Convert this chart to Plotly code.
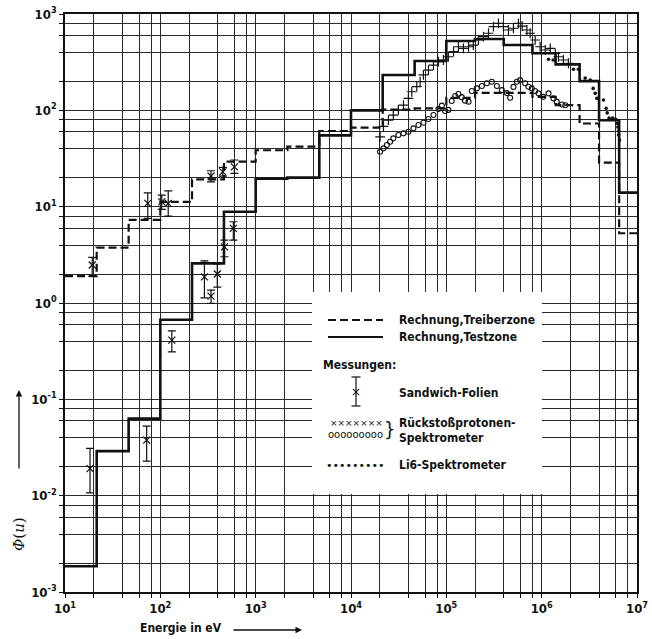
import plotly.graph_objects as go

# ---------------- data ----------------
# group boundaries (eV) of the step histograms
bin_edges = [10, 21.5, 46.5, 100, 215, 465, 1000, 2150, 4650, 1e4, 2.15e4, 4.65e4,
             1e5, 2e5, 4e5, 8e5, 1.4e6, 2.5e6, 4e6, 6.5e6, 1.05e7]
# Rechnung, Treiberzone (dashed)
treiber = [1.9, 3.75, 7.3, 11.2, 19.2, 29.3, 38.5, 42, 61, 66, 102, 105,
           135, 152, 152, 138, 113, 73, 28.6, 5.3]
# Rechnung, Testzone (solid)
testzone = [0.00185, 0.029, 0.063, 0.67, 2.58, 8.85, 19.5, 20, 55, 100, 233, 325,
            525, 550, 476, 391, 300, 201, 79, 14]

# Sandwich-Folien measurements
sw_E = [19.3, 73.8, 103.5, 121, 340, 452, 598, 290, 396, 340, 470, 583, 18.3, 71.9, 132]
sw_val = [2.48, 10.8, 11.2, 10.8, 20.8, 23.0, 25.9, 1.87, 2.0, 1.18, 3.83, 5.95, 0.0191, 0.0377, 0.412]
sw_hi = [2.98, 13.9, 13.2, 14.6, 23.6, 25.6, 30.5, 2.74, 2.54, 1.36, 4.50, 6.97, 0.0309, 0.0527, 0.514]
sw_lo = [1.90, 7.56, 9.37, 7.98, 18.1, 20.8, 22.2, 1.13, 1.46, 0.99, 3.02, 4.50, 0.0107, 0.0228, 0.311]

# Rückstoßprotonen-Spektrometer (crosses)
rp1_E = [2.02e4, 2.19e4, 2.47e4, 2.78e4, 3.14e4, 3.55e4, 4.0e4, 4.34e4, 4.9e4, 5.31e4,
         5.75e4, 6.49e4, 7.33e4, 8.27e4, 9.33e4, 1.05e5, 1.19e5, 1.34e5, 1.51e5, 1.71e5,
         1.92e5, 2.17e5, 2.45e5, 2.77e5, 3.12e5, 3.52e5, 3.97e5, 4.48e5, 5.06e5, 5.71e5,
         6.24e5, 7.0e5, 7.57e5, 8.54e5, 9.64e5, 1.09e6, 1.23e6, 1.39e6, 1.5e6, 1.69e6, 1.91e6]
rp1_val = [53, 68, 79, 89, 101, 113, 133, 156, 176, 198,
           233, 262, 295, 320, 333, 360, 406, 457, 440, 457,
           476, 537, 581, 631, 738, 800, 738, 682, 711, 800,
           750, 682, 631, 537, 457, 423, 440, 391, 360, 333, 308]

# Rückstoßprotonen-Spektrometer (circles)
rp2_E = [2.02e4, 2.19e4, 2.38e4, 2.57e4, 2.78e4, 3.14e4, 3.55e4, 4.0e4, 4.52e4, 5.1e4,
         5.75e4, 6.49e4, 7.33e4, 8.27e4, 8.97e4, 9.71e4, 1.05e5, 1.14e5, 1.24e5, 1.34e5,
         1.45e5, 1.57e5, 1.71e5, 1.85e5, 2.09e5, 2.36e5, 2.66e5, 3.0e5, 3.39e5, 3.82e5,
         4.31e5, 4.67e5, 5.06e5, 5.49e5, 5.95e5, 6.71e5, 7.27e5, 7.89e5, 8.54e5, 9.26e5,
         1.04e6, 1.18e6, 1.33e6, 1.44e6, 1.63e6, 1.77e6]
rp2_val = [37.2, 40.3, 43.6, 47.2, 51.2, 55.4, 57.7, 60, 65, 70.4,
           74.3, 81.2, 89.4, 103, 112, 98.4, 101, 125, 141, 148,
           137, 126, 123, 159, 169, 179, 191, 198, 179, 162,
           151, 135, 175, 198, 206, 191, 176, 169, 159, 150,
           138, 150, 133, 123, 115, 113]

# Li6-Spektrometer (dots)
li6_E = [1.18e6, 1.32e6, 2.16e6, 2.43e6, 2.86e6, 3.23e6, 3.47e6, 3.64e6, 3.79e6, 4.45e6,
         4.75e6, 4.87e6, 5.1e6, 5.56e6, 5.98e6, 6.19e6, 6.3e6, 6.4e6, 6.4e6, 6.55e6]
li6_val = [339, 333, 267, 267, 216, 206, 169, 150, 133, 128,
           105, 94, 83, 83, 80.7, 73.3, 67, 61, 55.4, 49.2]

# axis ticks / grid
x_major = [10 ** d for d in range(1, 8)]
x_major_text = ["10<sup>%d</sup>" % d for d in range(1, 8)]
y_major = [10.0 ** d for d in range(-3, 4)]
y_major_text = ["10<sup>%d</sup>" % d for d in range(-3, 4)]
x_minor = [m * 10 ** d for d in range(1, 7) for m in (2, 4, 6, 8)]
y_minor = [m * 10.0 ** d for d in range(-3, 3) for m in (2, 4, 6, 8)]

# ---------------- figure ----------------
FONT = "DejaVu Sans Condensed, Liberation Sans Narrow, Arial Narrow, sans-serif"
INK = "#111111"
GRID = "#2a2a2a"

fig = go.Figure()

fig.add_trace(go.Scatter(x=bin_edges, y=treiber + [treiber[-1]], mode="lines",
                         line=dict(shape="hv", color=INK, width=2.2, dash="8px,4px"),
                         showlegend=False))
fig.add_trace(go.Scatter(x=bin_edges, y=testzone + [testzone[-1]], mode="lines",
                         line=dict(shape="hv", color=INK, width=2.6),
                         showlegend=False))
fig.add_trace(go.Scatter(x=rp2_E, y=rp2_val, mode="markers",
                         marker=dict(symbol="circle-open", size=5, color=INK,
                                     line=dict(width=1.1, color=INK)),
                         showlegend=False))
fig.add_trace(go.Scatter(x=rp1_E, y=rp1_val, mode="markers",
                         marker=dict(symbol="cross-thin", size=7,
                                     line=dict(width=1.2, color=INK)),
                         showlegend=False))
fig.add_trace(go.Scatter(x=li6_E, y=li6_val, mode="markers",
                         marker=dict(symbol="circle", size=3.6, color=INK),
                         showlegend=False))
fig.add_trace(go.Scatter(
    x=sw_E, y=sw_val, mode="markers",
    marker=dict(symbol="x-thin", size=7, line=dict(width=1.2, color=INK)),
    error_y=dict(type="data", symmetric=False,
                 array=[h - v for h, v in zip(sw_hi, sw_val)],
                 arrayminus=[v - l for v, l in zip(sw_val, sw_lo)],
                 color=INK, thickness=1.2, width=4),
    showlegend=False))

def axis_common(minor_vals):
    return dict(type="log", showgrid=True, gridcolor=GRID, gridwidth=1,
                showline=True, linecolor=INK, linewidth=1.6, mirror=True,
                ticks="outside", ticklen=4, tickcolor=INK, tickwidth=1,
                zeroline=False, automargin=False,
                minor=dict(tickmode="array", tickvals=minor_vals, showgrid=True,
                           gridcolor=GRID, gridwidth=1, ticks="outside", ticklen=4,
                           tickcolor=INK, tickwidth=1),
                tickfont=dict(family=FONT, size=13, color=INK, weight="bold"))

fig.update_xaxes(range=[1, 7], tickmode="array", tickvals=x_major,
                 ticktext=x_major_text, **axis_common(x_minor))
fig.update_yaxes(range=[-3, 3], tickmode="array", tickvals=y_major,
                 ticktext=y_major_text, **axis_common(y_minor))

# legend panel (white box over the grid)
L, R, B, T = 65, 637, 592, 14
W, H = R - L, B - T
def px(x):
    return (x - L) / W
def py(y):
    return (B - y) / H

shapes = [dict(type="rect", xref="paper", yref="paper", x0=px(312), x1=px(542),
               y0=py(494), y1=py(292), fillcolor="white", line=dict(width=0), layer="above"),
          dict(type="line", xref="paper", yref="paper", x0=px(328), x1=px(383),
               y0=py(320), y1=py(320), line=dict(color=INK, width=2.2, dash="8px,4px"), layer="above"),
          dict(type="line", xref="paper", yref="paper", x0=px(328), x1=px(383),
               y0=py(337), y1=py(337), line=dict(color=INK, width=2.2), layer="above"),
          dict(type="line", xref="paper", yref="paper", x0=px(356), x1=px(356),
               y0=py(377), y1=py(406), line=dict(color=INK, width=1.2), layer="above"),
          dict(type="line", xref="paper", yref="paper", x0=px(351.5), x1=px(360.5),
               y0=py(377), y1=py(377), line=dict(color=INK, width=1.2), layer="above"),
          dict(type="line", xref="paper", yref="paper", x0=px(351.5), x1=px(360.5),
               y0=py(406), y1=py(406), line=dict(color=INK, width=1.2), layer="above")]
fig.update_layout(shapes=shapes)

def txt(x, y, s, size=12, anchor="left", **kw):
    fig.add_annotation(xref="paper", yref="paper", x=px(x), y=py(y), text=s,
                       showarrow=False, xanchor=anchor, yanchor="middle",
                       font=dict(family=kw.pop("family", FONT), size=size, color=INK,
                                 weight=kw.pop("weight", "bold")), **kw)

txt(397, 320, "Rechnung,Treiberzone")
txt(397, 337, "Rechnung,Testzone")
txt(321, 365, "Messungen:")
txt(356, 392, "×", size=12, anchor="center", weight="normal", family="DejaVu Sans")
txt(397, 393, "Sandwich-Folien")
txt(356, 423, "×××××××", size=9, anchor="center", weight="normal", family="DejaVu Sans")
txt(355, 434, "ooooooooo", size=10, anchor="center", weight="normal", family="DejaVu Sans")
txt(389, 429, "}", size=20, anchor="center", weight="normal", family="DejaVu Sans Condensed, DejaVu Sans")
txt(397, 423, "Rückstoßprotonen-")
txt(397, 438, "Spektrometer")
txt(355, 465, "•••••••••", size=11, anchor="center", weight="normal", family="DejaVu Sans")
txt(397, 465, "Li6-Spektrometer")

# axis titles with arrows
txt(181, 628, "Energie in eV", anchor="center")
fig.add_annotation(xref="paper", yref="paper", x=px(302), y=py(630), ax=-70, ay=0,
                   text="", showarrow=True, arrowhead=2, arrowsize=1, arrowwidth=1.3,
                   arrowcolor=INK)
fig.add_annotation(xref="paper", yref="paper", x=px(19), y=py(534), text="<i>Φ</i>(<i>u</i>)",
                   showarrow=False, textangle=-90, xanchor="center", yanchor="middle",
                   font=dict(family="DejaVu Serif, serif", size=15, color=INK))
fig.add_annotation(xref="paper", yref="paper", x=px(19), y=py(390), ax=0, ay=80,
                   text="", showarrow=True, arrowhead=2, arrowsize=1, arrowwidth=1.3,
                   arrowcolor=INK)

fig.update_layout(width=652, height=639,
                  margin=dict(l=L, r=652 - R, t=T, b=639 - B, autoexpand=False),
                  paper_bgcolor="white", plot_bgcolor="white",
                  showlegend=False)

fig.write_html("out.html", config={"displayModeBar": False},
               post_script="document.body.style.margin='0px';")
